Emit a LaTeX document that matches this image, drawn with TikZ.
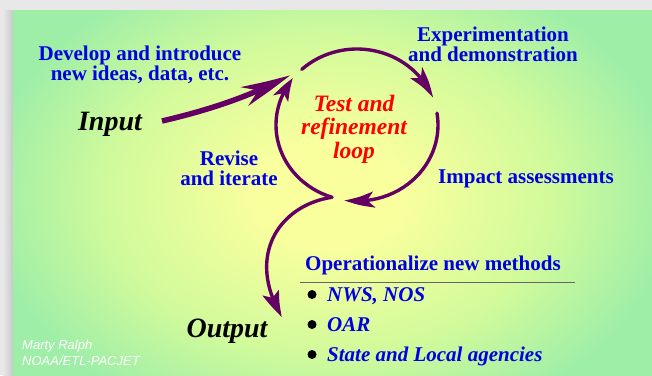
\documentclass[tikz,border=0pt]{standalone}
\usepackage{fontspec}
\setmainfont{Liberation Serif}
\newfontfamily\arialfont{Liberation Sans}
\usetikzlibrary{arrows.meta,bending,calc}
\definecolor{txtblue}{RGB}{0,0,225}
\definecolor{loopred}{RGB}{255,0,0}
\definecolor{arrowpurple}{RGB}{100,0,100}
\definecolor{bgY}{RGB}{250,255,158}
\definecolor{bgM}{RGB}{208,250,155}
\definecolor{bgG}{RGB}{158,238,168}
\definecolor{framegray}{RGB}{232,232,232}
\definecolor{shadowgray}{RGB}{200,200,200}
\pgfdeclareradialshading{slidebg}{\pgfpoint{0bp}{0bp}}{color(0bp)=(bgY); color(4bp)=(bgY); color(13bp)=(bgM); color(20bp)=(bgG); color(25bp)=(bgG); color(50bp)=(bgG)}
\begin{document}
\begin{tikzpicture}[x=1pt,y=-1pt,
  bluetxt/.style={text=txtblue, font=\fontsize{21}{20}\selectfont\bfseries, align=center, inner sep=0pt},
  bluelist/.style={text=txtblue, font=\fontsize{21}{20}\selectfont\bfseries\itshape, inner sep=0pt, anchor=base west},
  redtxt/.style={text=loopred, font=\fontsize{23.5}{23.5}\selectfont\bfseries\itshape, align=center, inner sep=0pt},
  bigtxt/.style={text=black, font=\fontsize{28}{28}\selectfont\bfseries\itshape, inner sep=0pt, anchor=base},
  credit/.style={text=white, font=\arialfont\itshape\fontsize{13}{16.5}\selectfont, align=left, inner sep=0pt},
  bulletdot/.style={circle, fill=black, minimum size=9pt, inner sep=0pt},
  looparrow/.style={draw=arrowpurple, line width=3.4pt, line cap=round, -{Stealth[length=30pt,width=16pt,inset=7pt,bend]}},
  inarrow/.style={draw=arrowpurple, line width=5.5pt, line cap=butt, -{Stealth[length=50pt,width=20pt,inset=15pt,bend]}},
  rulestyle/.style={draw=black!60, line width=0.8pt}
]
\useasboundingbox (0,0) rectangle (652,375);
\fill[framegray] (0,0) rectangle (652,375);
\shade[left color=framegray, right color=shadowgray] (3,10) rectangle (13,375);
\begin{scope}
  \clip (13,10) rectangle (652,375);
  \shade[shading=slidebg] (330,195) ellipse [x radius=430, y radius=310];
\end{scope}

% loop geometry
\coordinate (c) at (357,125);
\coordinate (topStart) at ($(c)+(-133:81 and 76)$);
\coordinate (rightStart) at ($(c)+(-9:81 and 76)$);
\coordinate (leftStart) at ($(c)+(108:81 and 76)$);
\coordinate (inTail) at (162,121);
\coordinate (inTip) at (290,75);
\coordinate (outTip) at (282,317);

\draw[looparrow] (topStart) arc[start angle=-133, end angle=-21, x radius=81, y radius=76];
\draw[looparrow] (rightStart) arc[start angle=-9, end angle=99, x radius=81, y radius=76];
\draw[looparrow, -{Stealth[length=24pt,width=16pt,inset=6pt,bend]}] (leftStart) arc[start angle=108, end angle=218, x radius=81, y radius=76];
\draw[looparrow, -{Stealth[length=28pt,width=17pt,inset=6pt,bend]}] (leftStart) .. controls (280,205) and (245,255) .. (outTip);
\draw[inarrow] (inTail) .. controls (205,111) and (250,97) .. (inTip);

% texts
\node[bluetxt, anchor=north] (develop) at (140,46) {Develop and introduce\\new ideas, data, etc.};
\node[bigtxt] (input) at (110,130) {Input};
\node[bluetxt, anchor=north] (experiment) at (493,27) {Experimentation\\and demonstration};
\node[redtxt, anchor=north] (loop) at (354,94.5) {Test and\\refinement\\loop};
\node[bluetxt, anchor=base west] (impact) at (438,183) {Impact assessments};
\node[bluetxt, anchor=north] (revise) at (229,151) {Revise\\and iterate};
\node[bigtxt] (output) at (227,337) {Output};
\node[bluetxt, anchor=base west] (oper) at (305,270) {Operationalize new methods};
\coordinate (ruleL) at (300,282);
\coordinate (ruleR) at (575,282);
\draw[rulestyle] (ruleL) -- (ruleR);
\node[bulletdot] (b1) at (312,294.5) {};
\node[bulletdot] (b2) at (312,324.5) {};
\node[bulletdot] (b3) at (312,354.5) {};
\node[bluelist] (nws) at (327,301) {NWS, NOS};
\node[bluelist] (oar) at (327,331) {OAR};
\node[bluelist] (state) at (327,361) {State and Local agencies};
\node[credit, anchor=north west] (author) at (22,339.5) {Marty Ralph\\NOAA/ETL-PACJET};
\end{tikzpicture}
\end{document}
